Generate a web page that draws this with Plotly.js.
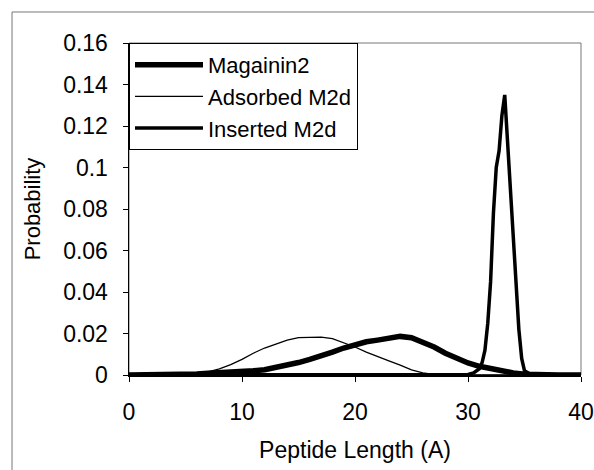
<!DOCTYPE html>
<html>
<head>
<meta charset="utf-8">
<script src="https://cdn.plot.ly/plotly-3.0.1.min.js"></script>
<style>html,body{margin:0;padding:0;background:#fff;}#chart{width:594px;height:470px;}</style>
</head>
<body>
<div id="chart"></div>
<script>
// Series names
var seriesNames = ["Magainin2", "Adsorbed M2d", "Inserted M2d"];

// Magainin2
var magX = [0,1,2,3,4,5,6,7,8,9,10,11,12,13,14,15,16,17,18,19,20,21,22,23,24,25,26,27,28,29,30,31,32,33,34,35,36,37,38,39,40];
var magY = [0,0,0,0,0,0.0002,0.0005,0.0008,0.001,0.0013,0.0016,0.002,0.0025,0.0035,0.0048,0.006,0.0075,0.009,0.011,0.013,0.0148,0.016,0.0168,0.018,0.0186,0.018,0.016,0.0135,0.0105,0.0078,0.0058,0.0042,0.003,0.0018,0.001,0.0004,0.0001,0,0,0,0];

// Adsorbed M2d
var adsX = [0,1,2,3,4,5,6,7,8,9,10,11,12,13,14,15,16,17,18,19,20,21,22,23,24,25,26,27,28,29,30,31,32,33,34,35,36,37,38,39,40];
var adsY = [0,0,0,0,0,0,0.0005,0.0015,0.003,0.005,0.0075,0.0105,0.013,0.015,0.0168,0.018,0.0183,0.0183,0.0175,0.0155,0.0135,0.011,0.0088,0.0068,0.0048,0.0025,0.001,0.0003,0,0,0,0,0,0,0,0,0,0,0,0,0];

// Inserted M2d
var insX = [0,5,10,15,20,25,29.5,30,30.5,31,31.25,31.5,31.75,32,32.25,32.5,32.75,33,33.25,33.5,33.75,34,34.25,34.5,34.75,35,35.5,36,37,38,39,40];
var insY = [0,0,0,0,0,0,0,0.0003,0.001,0.003,0.006,0.012,0.025,0.045,0.078,0.1,0.108,0.125,0.135,0.112,0.09,0.072,0.045,0.022,0.008,0.002,0.0005,0,0,0,0,0];

// Axis ticks
var xTicks = [0,10,20,30,40];
var xTickText = ["0","10","20","30","40"];
var yTicks = [0,0.02,0.04,0.06,0.08,0.1,0.12,0.14,0.16];
var yTickText = ["0","0.02","0.04","0.06","0.08","0.1","0.12","0.14","0.16"];

var font = "Liberation Sans, Arial, sans-serif";

var traces = [
  {x: magX, y: magY, name: seriesNames[0], mode: "lines", line: {color: "#000", width: 5.5}},
  {x: adsX, y: adsY, name: seriesNames[1], mode: "lines", line: {color: "#000", width: 1.3}},
  {x: insX, y: insY, name: seriesNames[2], mode: "lines", line: {color: "#000", width: 3.5}}
];

var layout = {
  width: 594, height: 470,
  margin: {l: 129, r: 13, t: 43, b: 95, pad: 0},
  paper_bgcolor: "#fff", plot_bgcolor: "#fff",
  font: {family: font, size: 22, color: "#000"},
  showlegend: true,
  legend: {
    x: 0, y: 1, xanchor: "left", yanchor: "top",
    bgcolor: "#fff", bordercolor: "#000", borderwidth: 1,
    font: {family: font, size: 22, color: "#000"},
    itemwidth: 68, tracegroupgap: 0
  },
  xaxis: {
    range: [0, 40], tickvals: xTicks, ticktext: xTickText,
    showgrid: false, zeroline: false,
    showline: true, linecolor: "#000", linewidth: 1.5,
    ticks: "outside", ticklen: 5, tickcolor: "#000", tickwidth: 1,
    ticklabelstandoff: 11,
    tickfont: {family: font, size: 23, color: "#000"},
    title: {text: "Peptide Length (A)", font: {family: font, size: 23, color: "#000"}, standoff: 18},
    automargin: false, fixedrange: true
  },
  yaxis: {
    range: [0, 0.16], tickvals: yTicks, ticktext: yTickText,
    showgrid: false, zeroline: false,
    showline: true, linecolor: "#000", linewidth: 1.5,
    ticks: "outside", ticklen: 5, tickcolor: "#000", tickwidth: 1,
    ticklabelstandoff: 10,
    tickfont: {family: font, size: 23, color: "#000"},
    title: {text: "Probability", font: {family: font, size: 22, color: "#000"}, standoff: 16},
    automargin: false, fixedrange: true
  },
  shapes: [
    {type: "rect", xref: "paper", yref: "paper", x0: 0, x1: 1, y0: 0, y1: 1,
     line: {color: "#777", width: 1}, layer: "below"},
    {type: "line", xref: "paper", yref: "paper", x0: -0.2588, x1: -0.2588, y0: -0.3, y1: 1.0934,
     line: {color: "#777", width: 1}},
    {type: "line", xref: "paper", yref: "paper", x0: -0.2588, x1: 1.04, y0: 1.0934, y1: 1.0934,
     line: {color: "#777", width: 1}}
  ]
};

Plotly.newPlot("chart", traces, layout, {displayModeBar: false, staticPlot: true});
</script>
</body>
</html>
